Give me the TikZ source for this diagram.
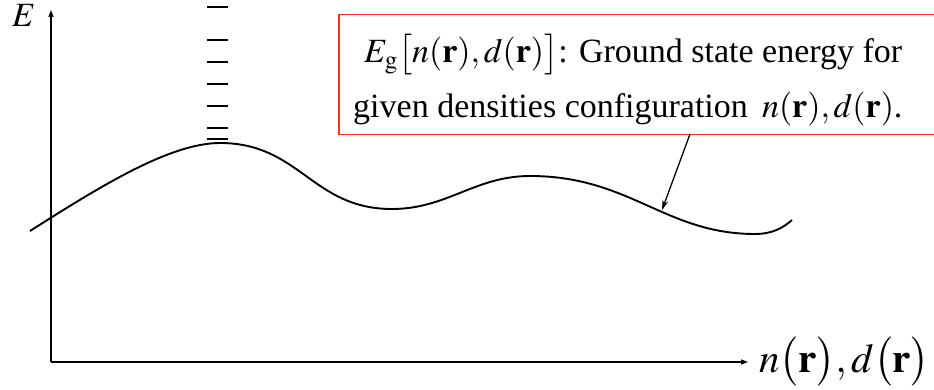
\documentclass[tikz,border=0pt]{standalone}
\usepackage{mathptmx}
\usepackage[no-math]{fontspec}
\setmainfont{Liberation Serif}
\usetikzlibrary{arrows.meta}
\definecolor{boxred}{HTML}{FF3314}
\tikzset{x=1pt,y=-1pt,axis/.style={line width=1.1pt,-{Triangle[length=7pt,width=5pt]}},arr/.style={-{Stealth[length=10pt,width=6pt]},line width=1.3pt},curve/.style={line width=1.9pt},lvl/.style={line width=1.6pt},note/.style={draw=boxred,line width=1.5pt,anchor=north west,minimum width=605pt,minimum height=120pt,inner sep=0pt},txt/.style={anchor=base west,inner sep=0pt,font=\fontsize{34}{40}\selectfont}}
\begin{document}
\begin{tikzpicture}
\useasboundingbox (0,0) rectangle (934,390);
\coordinate (O) at (51,362);\coordinate (ytop) at (51,10);\coordinate (xend) at (748,362);
\draw[axis] (O)--(ytop);\draw[axis] (O)--(xend);
\node[txt] (elab) at (12,27) {$E$};
\node[txt,font=\fontsize{41}{48}\selectfont] (xlab) at (759,372) {$n\bigl(\mathbf{r}\bigr),d\bigl(\mathbf{r}\bigr)$};
\foreach \y in {7,40,62,84,106,128,139}\draw[lvl] (207,\y)--(228,\y);
% energy landscape
\coordinate (s) at (30,231);\coordinate (p1) at (220,143);\coordinate (v1) at (392,209);\coordinate (p2) at (530,176);\coordinate (v2) at (755,234);\coordinate (e) at (792,220);
\draw[curve] (s) .. controls (100,186.5) and (170,143) .. (p1) .. controls (300,143) and (312,209) .. (v1) .. controls (447,209) and (475,176) .. (p2) .. controls (630,176) and (665,234) .. (v2) .. controls (772,234) and (783,228) .. (e);
\coordinate (hit) at (662,210);
\node[note] (box) at (338,14) {};
\node[txt] (l1) at (364,63) {$E_{\mathrm{g}}\bigl[n(\mathbf{r}),d(\mathbf{r})\bigr]$: Ground state energy for};
\node[txt] (l2) at (353,118) {given densities configuration \,$n(\mathbf{r}),d(\mathbf{r})$.};
\coordinate (tail) at (690,134);
\draw[arr] (tail)--(hit);
\end{tikzpicture}
\end{document}
